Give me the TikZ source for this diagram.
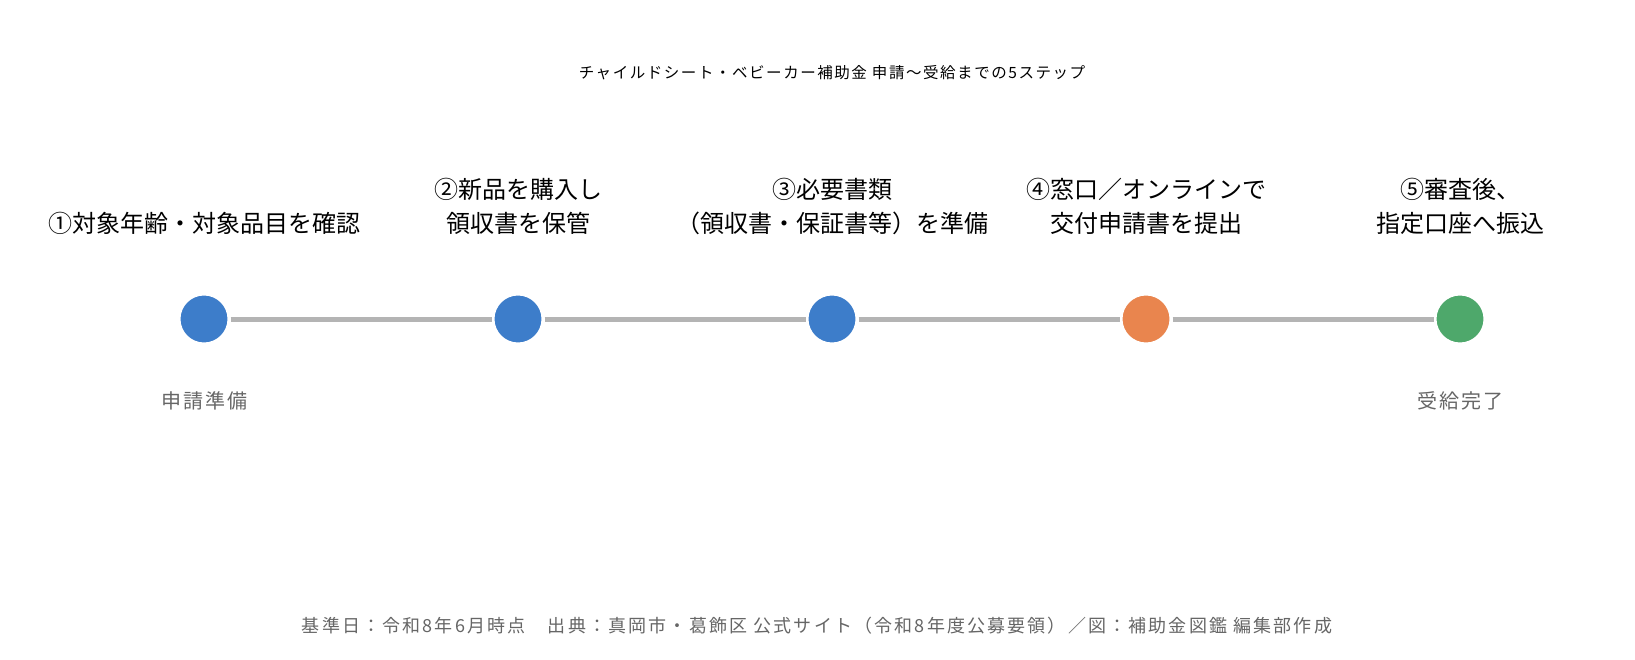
\documentclass[tikz,border=0pt]{standalone}
\usepackage{fontspec}
\newfontfamily\jp{Noto Sans CJK JP}
\newfontfamily\jpsp[LetterSpace=10]{Noto Sans CJK JP}
\newfontfamily\jpspb[LetterSpace=12]{Noto Sans CJK JP}
\definecolor{cblue}{HTML}{3D7DCA}
\definecolor{corange}{HTML}{E9854E}
\definecolor{cgreen}{HTML}{4EA86B}
\definecolor{cline}{HTML}{B4B4B4}
\definecolor{cgray}{HTML}{666666}
\begin{document}
\begin{tikzpicture}[x=1pt,y=-1pt,
  dot/.style={circle,inner sep=0pt,minimum size=50pt,draw=white,line width=3pt},
  conn/.style={draw=cline,line width=5pt},
  steplabel/.style={font=\jp\fontsize{24}{34}\selectfont,align=center,anchor=south,inner sep=0pt},
  sublabel/.style={font=\jpsp\fontsize{20}{24}\selectfont,text=cgray,inner sep=0pt},
  titlestyle/.style={font=\jpsp\fontsize{15.5}{18}\selectfont,inner sep=0pt},
  footstyle/.style={font=\jpspb\fontsize{18}{21}\selectfont,text=cgray,inner sep=0pt}]
\useasboundingbox (0,0) rectangle (1635,660);
\fill[white] (0,0) rectangle (1635,660);
\node[titlestyle] (title) at (832,73) {チャイルドシート・ベビーカー補助金 申請〜受給までの5ステップ};
\node[dot,fill=cblue] (c1) at (204,319) {};
\node[dot,fill=cblue] (c2) at (518,319) {};
\node[dot,fill=cblue] (c3) at (832,319) {};
\node[dot,fill=corange] (c4) at (1146,319) {};
\node[dot,fill=cgreen] (c5) at (1460,319) {};
\draw[conn] (c1) -- (c2);
\draw[conn] (c2) -- (c3);
\draw[conn] (c3) -- (c4);
\draw[conn] (c4) -- (c5);
\node[steplabel] (l1) at (204,235) {①対象年齢・対象品目を確認};
\node[steplabel] (l2) at (518,235) {②新品を購入し\\領収書を保管};
\node[steplabel] (l3) at (832,235) {③必要書類\\（領収書・保証書等）を準備};
\node[steplabel] (l4) at (1146,235) {④窓口／オンラインで\\交付申請書を提出};
\node[steplabel] (l5) at (1460,235) {⑤審査後、\\指定口座へ振込};
\node[sublabel] (s1) at (204,401) {申請準備};
\node[sublabel] (s5) at (1460,401) {受給完了};
\node[footstyle] (foot) at (817,626) {基準日：令和8年6月時点　出典：真岡市・葛飾区 公式サイト（令和8年度公募要領）／図：補助金図鑑 編集部作成};
\end{tikzpicture}
\end{document}
